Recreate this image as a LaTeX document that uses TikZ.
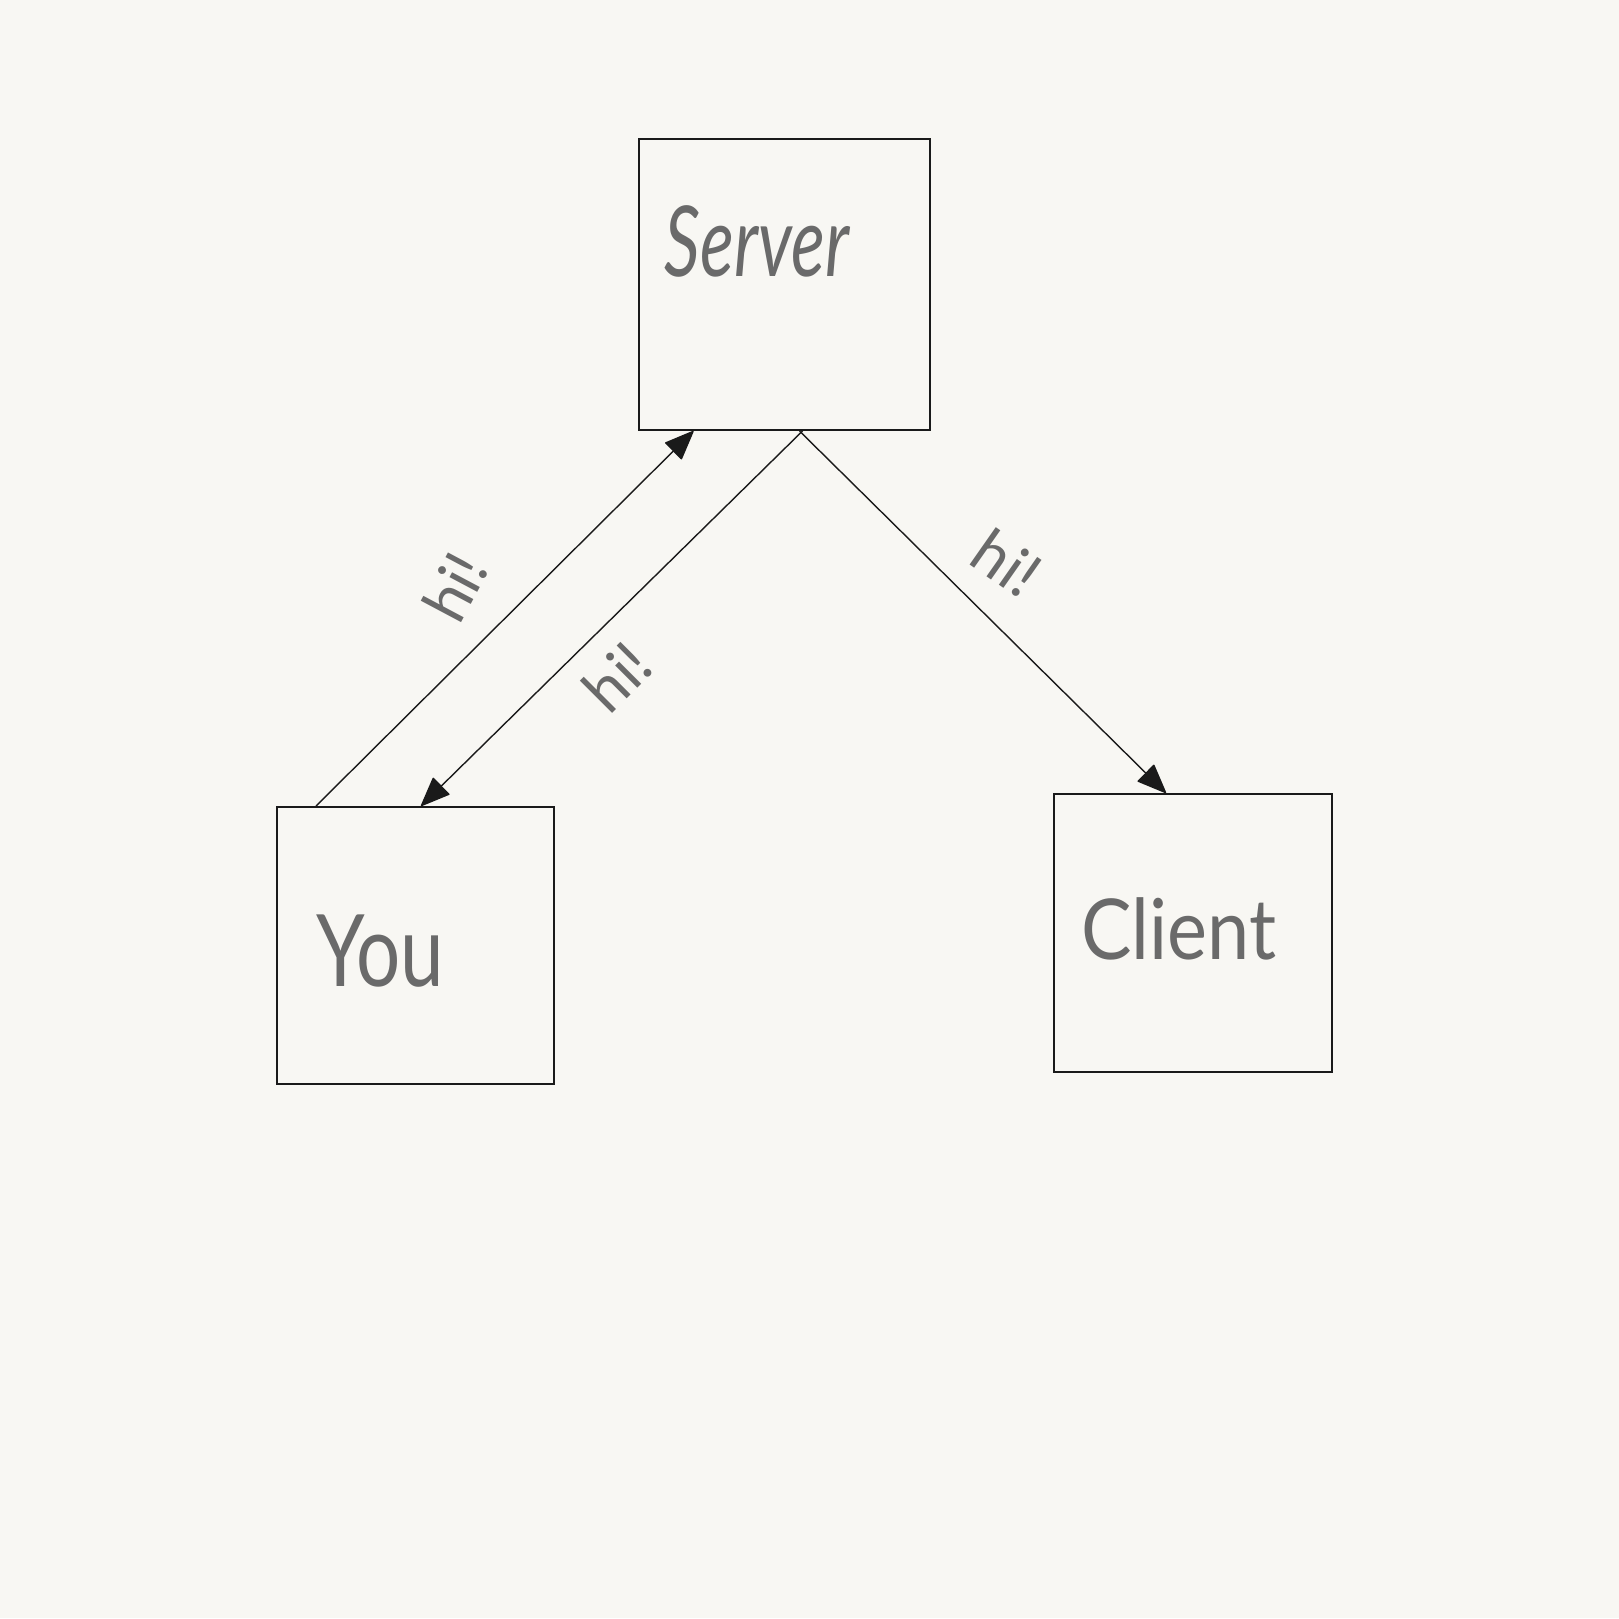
\documentclass[tikz,border=0pt]{standalone}
\usepackage{fontspec}
\setmainfont{Lato}
\usetikzlibrary{arrows.meta}
\definecolor{paper}{HTML}{F8F7F3}
\definecolor{ink}{HTML}{1A1A1A}
\definecolor{pencil}{HTML}{6A6A6A}
\tikzset{
  box/.style={draw=ink, line width=2pt, minimum width=#1, minimum height=#1, inner sep=0pt},
  conn/.style={draw=ink, line width=1.4pt, -{Triangle[length=30pt,width=24pt,round]}},
  hand/.style={text=pencil, inner sep=0pt},
}
\begin{document}
\begin{tikzpicture}[x=1pt,y=-1pt]
\fill[paper] (0,0) rectangle (1619,1618);
\useasboundingbox (0,0) rectangle (1619,1618);
\node[box=291pt] (server) at (784,284.5) {};
\node[box=277pt] (you) at (415.5,945.5) {};
\node[box=278pt] (client) at (1193,933) {};
\node[hand, font=\fontsize{98}{98}\selectfont\itshape] (tserver) at (757,241) {\scalebox{0.72}[1]{Server}};
\node[hand, font=\fontsize{100}{100}\selectfont] (tyou) at (380,951) {\scalebox{0.78}[1]{You}};
\node[hand, font=\fontsize{84}{84}\selectfont] (tclient) at (1179,929) {\scalebox{0.9}[1]{Client}};
\draw[conn] ([xshift=40pt]you.north west) -- ([xshift=56pt]server.south west);
\draw[conn] ([xshift=165pt]server.south west) -- ([xshift=145pt]you.north west);
\draw[conn] ([xshift=162pt]server.south west) -- ([xshift=113pt]client.north west);
\node[hand, font=\fontsize{62}{62}\selectfont, rotate=62] (hi1) at (455,587) {hi!};
\node[hand, font=\fontsize{62}{62}\selectfont, rotate=45] (hi2) at (617,677) {hi!};
\node[hand, font=\fontsize{62}{62}\selectfont, rotate=-35] (hi3) at (1007,563) {hi!};
\end{tikzpicture}
\end{document}
